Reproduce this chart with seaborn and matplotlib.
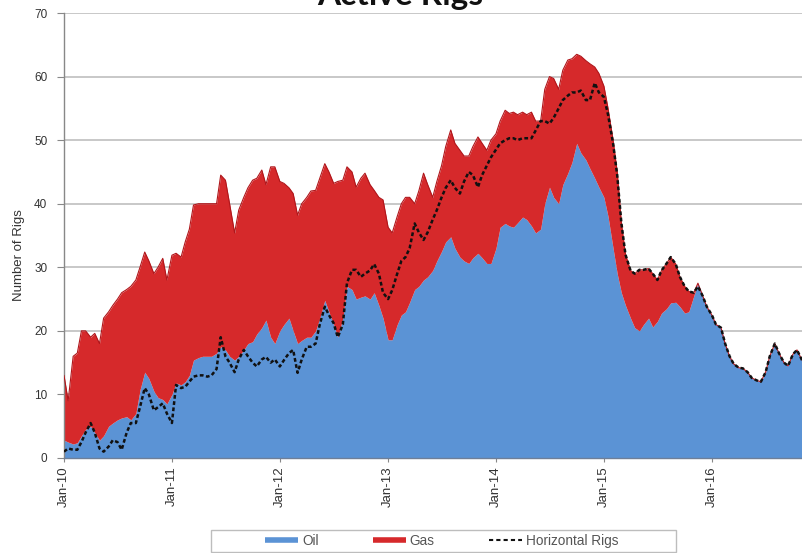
import numpy as np
import pandas as pd
import matplotlib
matplotlib.use("Agg")
import matplotlib.pyplot as plt
import matplotlib.dates as mdates
from matplotlib.lines import Line2D
from matplotlib.patches import Rectangle
import seaborn as sns

# Semi-monthly observations, Jan 2010 - Nov 2016
dates = pd.date_range("2010-01-01", periods=165, freq="SMS")

oil = [
    # 2010
    2.8, 2.5, 2.2, 2.4, 3.5, 4.5, 5, 4, 2.8, 3.5, 5, 5.5, 6, 6.3, 6.5, 6, 7, 10.7, 13.5, 12.5, 10.5, 9.5, 9.2, 8.5,
    # 2011
    10, 11.8, 11.5, 12, 13, 15.4, 15.8, 16, 16, 16, 16.5, 17.5, 17, 16, 15.4, 16, 17, 18, 18.3, 19.5, 20.5, 21.7, 19, 18,
    # 2012
    20, 21, 22, 20, 18, 18.5, 19, 19, 20, 22, 24.8, 23, 21, 19, 22, 27, 26.5, 25, 25.3, 25.5, 25, 26, 24, 22,
    # 2013
    18.6, 18.6, 21, 22.5, 23, 24.5, 26.5, 27, 28, 28.5, 29.5, 31, 32.5, 34, 34.8, 33, 31.6, 31, 30.6, 31.5, 32.2, 31.5, 30.6, 30.6,
    # 2014
    33, 36.3, 36.9, 36.5, 36.3, 37, 37.9, 37.5, 36.5, 35.4, 36, 40, 42.6, 41, 40, 43, 44.8, 46.5, 49.5, 48, 46.9, 45.5, 44, 42.6,
    # 2015
    41, 38, 33, 29, 26, 24, 22, 20.5, 20, 21, 22, 20.6, 21.5, 22.8, 23.5, 24.4, 24.5, 23.8, 22.8, 23, 25.5, 27.5, 25.5, 23.8,
    # 2016
    22.5, 21, 20.5, 18, 16, 14.8, 14.2, 14.1, 13.5, 12.6, 12.2, 12, 13.5, 16, 18, 16.5, 15, 14.5, 16.3, 17, 15.4,
]

gas = [
    # 2010
    10.2, 6.5, 13.8, 14.1, 16.5, 15.5, 14, 15.6, 15.2, 18.5, 18, 18.5, 19, 19.7, 20, 21, 21, 19.3, 18.9, 18.5, 18.5, 20.5, 22.2, 19.5,
    # 2011
    21.9, 20.4, 20.1, 22, 23, 24.4, 24.2, 24, 24, 24, 23.5, 27, 26.7, 24, 20, 23, 24, 24.5, 25.4, 24.5, 24.8, 21.3, 26.8, 27.8,
    # 2012
    23.5, 22.2, 20.5, 21.6, 20.2, 21.5, 22, 23, 22.1, 22, 21.5, 22, 22.2, 24.5, 21.7, 18.8, 18.5, 17.6, 18.7, 19.3, 18, 16.1, 17, 18.6,
    # 2013
    17.7, 16.8, 17, 17.5, 18, 16.5, 13.5, 15, 16.8, 14.5, 11.5, 12.5, 13.5, 15, 16.8, 16.5, 16.8, 16.5, 16.9, 17.5, 18.3, 18, 17.8, 19.4,
    # 2014
    18, 16.7, 17.8, 17.7, 18.1, 17, 16.5, 16.5, 17.9, 17.6, 17, 18, 17.4, 18.7, 18, 18, 17.8, 16.3, 14, 15.2, 15.6, 16.5, 17.5, 17.9,
    # 2015
    17.5, 17, 17, 16, 11, 8, 7.5, 8.5, 9.6, 8.6, 7.8, 8.4, 6.5, 6.7, 7.1, 7.2, 6, 4.7, 4.2, 3.2, 0.5, 0, 0, 0,
    # 2016
    0, 0, 0, 0, 0, 0, 0, 0, 0, 0, 0, 0, 0, 0, 0, 0, 0, 0, 0, 0, 0,
]

horizontal = [
    # 2010
    1, 1.5, 1.3, 1.3, 2.5, 4, 5.5, 4, 1.5, 1.0, 1.8, 2.8, 2.5, 1.3, 4, 5.5, 5.5, 8, 11, 10, 7.5, 8, 8.6, 7,
    # 2011
    5.5, 11.5, 11, 11.2, 12, 12.8, 13, 13, 12.8, 13, 14, 19, 16, 15, 13.5, 15.5, 17, 16, 15, 14.4, 15.5, 15.9, 15, 15.5,
    # 2012
    14.4, 15.4, 16.5, 17, 13.4, 15.5, 17.5, 17.5, 18, 21, 23.8, 22.5, 21.2, 19, 21, 27.5, 29.6, 29.6, 28.5, 29, 29.5, 30.5, 29, 26,
    # 2013
    25, 26.4, 29, 31, 31.6, 33, 36.9, 35.5, 34.3, 35.5, 37.5, 39, 41, 42.5, 43.7, 42.5, 41.6, 43.5, 45, 44.5, 42.6, 44.5, 46, 47.3,
    # 2014
    48.5, 49.5, 50, 50.3, 50.3, 50, 50.3, 50.3, 50.3, 51.5, 53, 53, 52.6, 53.5, 55, 56.3, 57, 57.5, 57.5, 57.8, 56.3, 56.3, 59, 57.5,
    # 2015
    56.8, 54, 49.5, 44.5, 37, 32, 29.5, 29, 29.6, 29.6, 29.8, 29, 28, 29.5, 30.6, 31.6, 30.5, 28.5, 27, 26.2, 26, 27, 25.5, 23.8,
    # 2016
    22.5, 21, 20.5, 18, 16, 14.8, 14.2, 14.1, 13.5, 12.6, 12.2, 12, 13.5, 16, 18, 16.5, 15, 14.5, 16.3, 17, 15.4,
]

series_names = ["Oil", "Gas", "Horizontal Rigs"]
y_ticks = [0, 10, 20, 30, 40, 50, 60, 70]

df = pd.DataFrame({"date": dates, "Oil": oil, "Gas": gas, "Horizontal Rigs": horizontal})
df["Total"] = df["Oil"] + df["Gas"]

sns.set_theme(style="white")
plt.rcParams["font.family"] = ["Liberation Sans", "DejaVu Sans"]

OIL_C = "#5b93d5"
GAS_C = "#d6292b"

fig = plt.figure(figsize=(8.02, 5.53), dpi=100)
ax = fig.add_axes([64 / 802, 1 - 458 / 553, 1 - 64 / 802, (458 - 13) / 553])

ax.fill_between(df["date"], 0, df["Oil"], color=OIL_C, linewidth=0, zorder=2)
ax.fill_between(df["date"], df["Oil"], df["Total"], color=GAS_C, linewidth=0, zorder=2)
ax.plot(df["date"], df["Total"], color="#b0161b", linewidth=0.8, zorder=3)

sns.lineplot(data=df, x="date", y="Horizontal Rigs", ax=ax, color="#111111",
             linewidth=1.8, dashes=False, zorder=4)
ax.lines[-1].set_linestyle((0, (1.5, 1.0)))

ax.set_xlim(pd.Timestamp("2010-01-01"), pd.Timestamp("2016-11-01"))
ax.set_ylim(0, 70)
ax.set_yticks(y_ticks)
ax.xaxis.set_major_locator(mdates.YearLocator())
ax.xaxis.set_major_formatter(mdates.DateFormatter("%b-%y"))
ax.tick_params(axis="x", labelrotation=90, labelsize=9.5, length=3, width=0.8,
               color="#888888", pad=3, bottom=True)
ax.tick_params(axis="y", labelsize=8.5, length=5, width=0.8, color="#888888", left=True, pad=7)
for lbl in ax.get_xticklabels() + ax.get_yticklabels():
    lbl.set_color("#333333")

ax.yaxis.grid(True, color="#c4c4c4", linewidth=1.3, zorder=0)
ax.xaxis.grid(False)
ax.set_axisbelow(True)
for side in ("top", "right"):
    ax.spines[side].set_visible(False)
ax.spines["left"].set_color("#888888")
ax.spines["bottom"].set_color("#6f7f98")
ax.spines["left"].set_linewidth(1.0)
ax.spines["bottom"].set_linewidth(1.0)

ax.set_xlabel("")
ax.set_ylabel("Number of Rigs", fontsize=9.5, color="#333333")
ax.yaxis.set_label_coords(-0.053, 0.455)

fig.text(400 / 802, 1 - 5 / 553, "Active Rigs", ha="center", va="baseline",
         fontsize=24, fontweight="bold", family=["Lato", "DejaVu Sans"], color="#111111")

handles = [
    Line2D([], [], color=OIL_C, linewidth=4, solid_capstyle="butt"),
    Line2D([], [], color=GAS_C, linewidth=4, solid_capstyle="butt"),
    Line2D([], [], color="#111111", linewidth=1.5, linestyle=(0, (2, 1.5))),
]
fig.add_artist(Rectangle((211 / 802, 1 - 552 / 553), (676 - 211) / 802, 22 / 553,
                         transform=fig.transFigure, facecolor="white",
                         edgecolor="#bdbdbd", linewidth=1.0))
leg = fig.legend(handles, series_names, loc="center", bbox_to_anchor=(442 / 802, 1 - 541 / 553),
                 ncol=3, frameon=False, fontsize=9.8, handlelength=2.4, handletextpad=0.3,
                 columnspacing=4.0)
for t in leg.get_texts():
    t.set_color("#555555")

fig.savefig("out.png", dpi=100)
